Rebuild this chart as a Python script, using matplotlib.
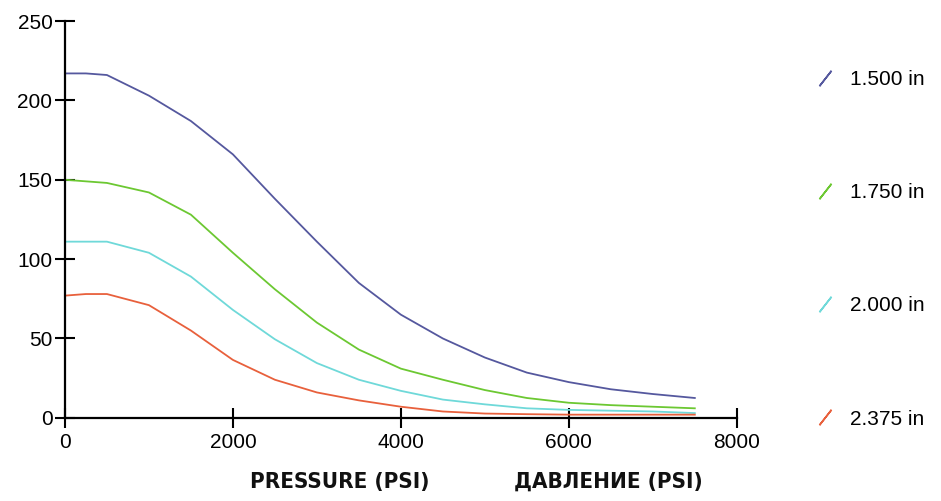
import matplotlib
matplotlib.use('Agg')
from matplotlib import pyplot as plt
from matplotlib.lines import Line2D

plt.rcParams['font.family'] = ['Liberation Sans', 'DejaVu Sans']

pressure = [0, 250, 500, 1000, 1500, 2000, 2500, 3000, 3500, 4000, 4500, 5000, 5500, 6000, 6500, 7000, 7500]

# values
d_1500 = [217, 217, 216, 203, 187, 166, 138, 111, 85, 65, 50, 38, 28.5, 22.5, 18, 15, 12.5]
d_1750 = [150, 149, 148, 142, 128, 104, 81, 60, 43, 31, 24, 17.5, 12.5, 9.5, 8, 7, 6]
d_2000 = [111, 111, 111, 104, 89, 68, 49.5, 34.5, 24, 17, 11.5, 8.5, 6, 5, 4.5, 4, 3]
d_2375 = [77, 78, 78, 71, 55, 36.5, 24, 16, 11, 7, 4, 2.7, 2.3, 2, 2, 2, 2]

labels = ['1.500 in', '1.750 in', '2.000 in', '2.375 in']
colors = ['#55589e', '#6cc832', '#6fd9d9', '#e8603c']
series = [d_1500, d_1750, d_2000, d_2375]

fig = plt.figure(figsize=(9.41, 5.01), dpi=100)
ax = fig.add_axes([0.069, 0.166, 0.714, 0.792])

for vals, c in zip(series, colors):
    ax.plot(pressure, vals, color=c, lw=1.3)

ax.set_xlim(0, 8000)
ax.set_ylim(0, 250)
ax.set_xticks([0, 2000, 4000, 6000, 8000])
ax.set_yticks([0, 50, 100, 150, 200, 250])

for s in ['top', 'right']:
    ax.spines[s].set_visible(False)
for s in ['left', 'bottom']:
    ax.spines[s].set_linewidth(1.6)
ax.tick_params(direction='inout', length=14, width=1.5, labelsize=15, colors='black')
ax.tick_params(axis='y', pad=2)
ax.tick_params(axis='x', pad=4)
ax.set_facecolor('white')

# slanted little strokes like the original key
handles = [Line2D([], [], color=c, lw=0, marker=(2, 2, -38), markersize=14,
                  markeredgewidth=1.2) for c in colors]
fig.legend(handles, labels, loc='upper left', bbox_to_anchor=(0.8546, 0.881),
           frameon=False, fontsize=15, labelspacing=4.52, handlelength=1.0,
           handletextpad=0.7, borderpad=0)

fig.text(340 / 941, 1 - 482 / 501, 'PRESSURE (PSI)', ha='center', va='center',
         fontsize=16, fontweight='bold', fontstretch='condensed',
         family=['Liberation Sans Narrow', 'DejaVu Sans'], color='#111111')
fig.text(608 / 941, 1 - 482 / 501, 'ДАВЛЕНИЕ (PSI)', ha='center', va='center',
         fontsize=16, fontweight='bold', fontstretch='condensed',
         family=['Liberation Sans Narrow', 'DejaVu Sans'], color='#111111')

fig.savefig('out.png', dpi=100, facecolor='white')
